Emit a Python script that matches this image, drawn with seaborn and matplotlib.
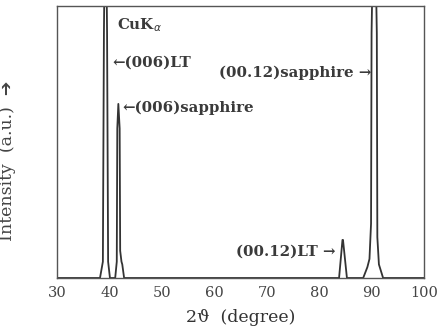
import numpy as np
import pandas as pd
import matplotlib
matplotlib.use("Agg")
import matplotlib.pyplot as plt
import seaborn as sns

# traced XRD profile (2theta in degrees, intensity in a.u.)
two_theta = [30.0, 38.2, 38.75, 38.95, 39.25, 39.55, 39.75, 40.1,
             41.1, 41.4, 41.5, 41.7, 41.95, 42.05, 42.3, 42.45, 42.8,
             83.8, 84.45, 84.55, 85.3,
             88.4, 89.2, 89.6, 89.9, 90.0, 90.5, 91.0, 91.1, 91.4, 92.2, 100.0]
intensity = [0.0, 0.0, 0.06, 0.9, 1.5, 0.9, 0.06, 0.0,
             0.0, 0.06, 0.55, 0.64, 0.55, 0.1, 0.06, 0.05, 0.0,
             0.0, 0.14, 0.14, 0.0,
             0.0, 0.04, 0.07, 0.2, 0.9, 1.5, 0.9, 0.15, 0.05, 0.0, 0.0]

x_ticks = [30, 40, 50, 60, 70, 80, 90, 100]

df = pd.DataFrame({"two_theta": two_theta, "intensity": intensity})

sns.set_style("white")
plt.rcParams["font.family"] = ["DejaVu Serif", "DejaVu Sans"]

fig = plt.figure(figsize=(4.38, 3.36), dpi=100)
ax = fig.add_axes([57 / 438, 58 / 336, 367 / 438, 272 / 336])

line_col = "#333333"
sns.lineplot(data=df, x="two_theta", y="intensity", sort=False, estimator=None,
             color=line_col, linewidth=1.3, ax=ax)

ax.set_xlim(30, 100)
ax.set_ylim(0, 1)
ax.set_xticks(x_ticks)
ax.set_yticks([])
ax.tick_params(axis="x", direction="in", length=3, width=1, colors=line_col,
               labelsize=10.5, labelcolor="#444444", pad=6)
for s in ax.spines.values():
    s.set_color("#555555")
    s.set_linewidth(1.0)

ax.set_xlabel("2\u03d1  (degree)", fontsize=12.5, color="#333333", labelpad=6)
ax.set_ylabel("Intensity  (a.u.)  \u2794", fontsize=12.5, color="#444444",
              family=["DejaVu Serif", "DejaVu Sans"])
ax.yaxis.set_label_coords(-0.112, 0.43)

tk = dict(fontsize=10.8, color="#3a3a3a", fontweight="bold")
ax.text(41.5, 0.93, "CuK$_\\alpha$", va="center", ha="left", **tk)
ax.text(40.6, 0.79, "\u2190(006)LT", va="center", ha="left", **tk)
ax.text(42.4, 0.625, "\u2190(006)sapphire", va="center", ha="left", **tk)
ax.text(89.9, 0.754, "(00.12)sapphire \u2192", va="center", ha="right", **tk)
ax.text(83.1, 0.096, "(00.12)LT \u2192", va="center", ha="right", **tk)

fig.savefig("out.png", dpi=100)
